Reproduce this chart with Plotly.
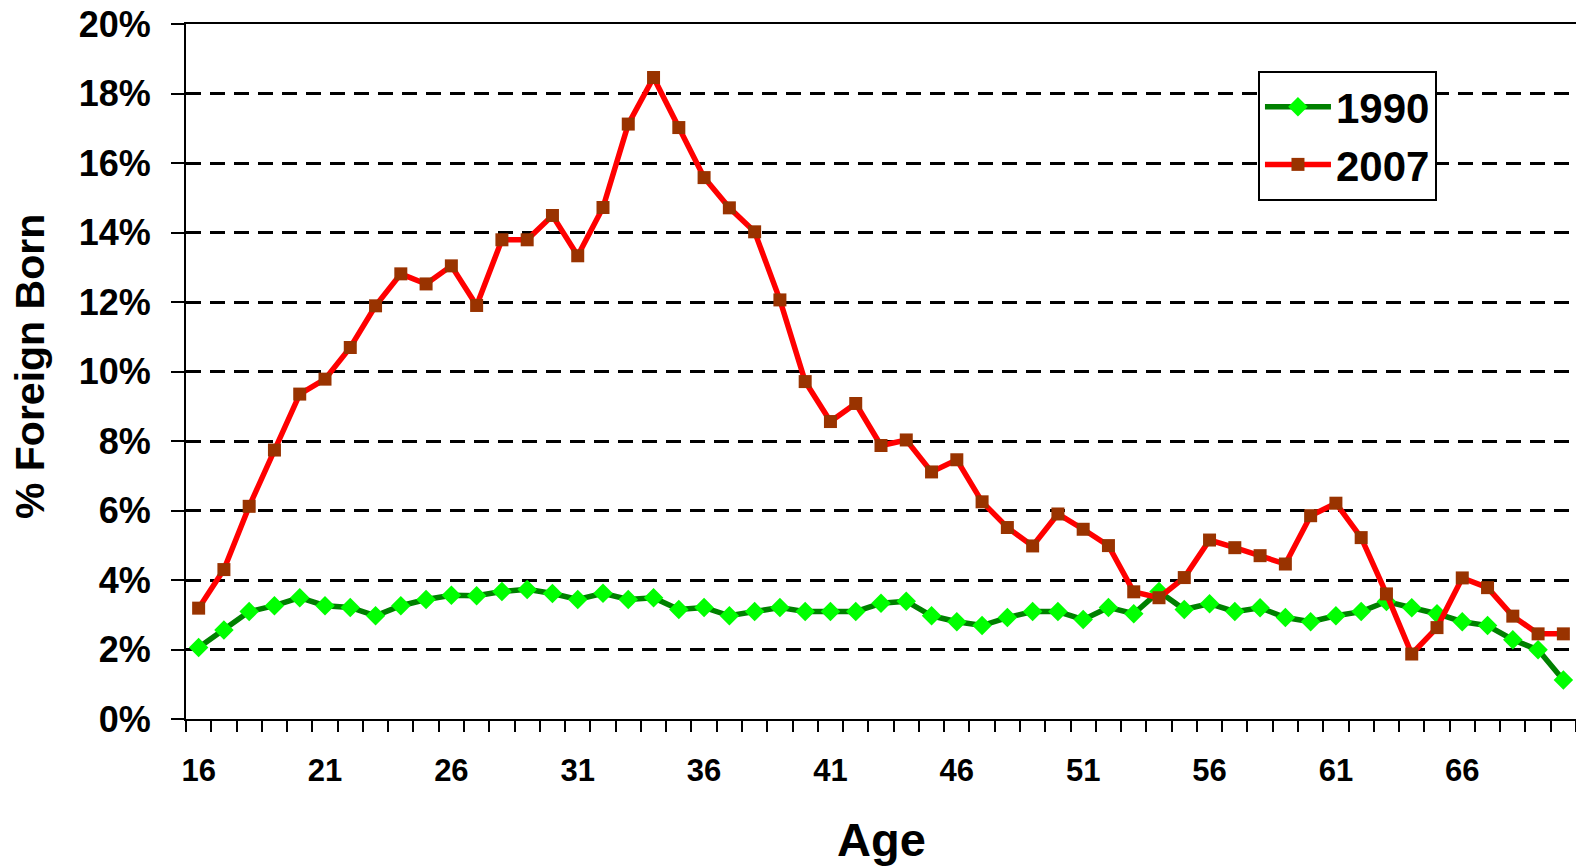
import plotly.graph_objects as go

# ages 16..70
ages = list(range(16, 71))

# percent foreign born
pct_1990 = [2.06, 2.56, 3.09, 3.26, 3.49, 3.26, 3.21, 2.97, 3.26, 3.44,
            3.56, 3.55, 3.67, 3.73, 3.61, 3.44, 3.62, 3.44, 3.49, 3.15,
            3.21, 2.97, 3.09, 3.21, 3.09, 3.09, 3.09, 3.33, 3.39, 2.97,
            2.80, 2.69, 2.92, 3.09, 3.09, 2.86, 3.21, 3.03, 3.67, 3.15,
            3.32, 3.09, 3.20, 2.92, 2.80, 2.97, 3.09, 3.38, 3.20, 3.03,
            2.80, 2.69, 2.28, 1.99, 1.12]
pct_2007 = [3.19, 4.30, 6.12, 7.74, 9.35, 9.78, 10.69, 11.89, 12.81, 12.52,
            13.04, 11.90, 13.79, 13.79, 14.49, 13.33, 14.72, 17.12, 18.46, 17.02,
            15.58, 14.71, 14.02, 12.06, 9.71, 8.56, 9.08, 7.87, 8.03, 7.11,
            7.46, 6.25, 5.51, 4.98, 5.90, 5.46, 4.99, 3.66, 3.49, 4.07,
            5.15, 4.93, 4.70, 4.46, 5.85, 6.21, 5.22, 3.60, 1.87, 2.63,
            4.06, 3.78, 2.96, 2.45, 2.45]

x_labels = [16, 21, 26, 31, 36, 41, 46, 51, 56, 61, 66]
y_ticks = list(range(0, 21, 2))
y_labels = [f"{v}%" for v in y_ticks]

font = "Liberation Sans, Arial, sans-serif"

fig = go.Figure()
fig.add_trace(go.Scatter(x=ages, y=pct_1990, name="1990", mode="lines+markers",
                         line=dict(color="#008000", width=5.5),
                         marker=dict(symbol="diamond", size=15, color="#00FF00")))
fig.add_trace(go.Scatter(x=ages, y=pct_2007, name="2007", mode="lines+markers",
                         line=dict(color="#FF0000", width=5.5),
                         marker=dict(symbol="square", size=13, color="#993300")))

fig.update_layout(
    width=1576, height=866,
    margin=dict(l=186, r=0, t=24, b=147),
    paper_bgcolor="white", plot_bgcolor="white",
    font=dict(family=font, color="black"),
    showlegend=True,
    legend=dict(x=0.7712, y=0.9324, xanchor="left", yanchor="top",
                bordercolor="black", borderwidth=2, bgcolor="white",
                font=dict(size=42, family=font, weight="bold"),
                itemwidth=66, tracegroupgap=0),
)

fig.update_xaxes(
    range=[15.5, 70.5], tickvals=x_labels,
    ticks="outside", ticklen=23, tickcolor="rgba(0,0,0,0)",
    tickfont=dict(size=31, family=font, weight="bold"),
    showgrid=False, zeroline=False,
    showline=True, linecolor="black", linewidth=2, mirror=True,
    minor=dict(tick0=15.5, dtick=1, ticks="outside", ticklen=11,
               tickcolor="black", tickwidth=2, showgrid=False),
)
fig.update_yaxes(
    range=[0, 20], tickvals=y_ticks, ticktext=y_labels,
    ticks="outside", ticklen=13, tickwidth=2, tickcolor="black",
    tickfont=dict(size=36, family=font, weight="bold"),
    ticklabelstandoff=13,
    showgrid=True, gridcolor="black", gridwidth=3, griddash="15px,9px",
    zeroline=False, showline=True, linecolor="black", linewidth=2,
)

fig.add_annotation(text="% Foreign Born", xref="paper", yref="paper",
                   x=-0.1122, y=0.5065, xanchor="center", yanchor="middle",
                   textangle=-90, showarrow=False,
                   font=dict(size=41, family=font, weight="bold"))
fig.add_annotation(text="Age", xref="paper", yref="paper",
                   x=0.5, y=-0.1727, xanchor="center", yanchor="middle",
                   showarrow=False,
                   font=dict(size=47, family=font, weight="bold"))

# drop the default 8px body margin so the figure sits at the window origin
fig.write_html("out.html", config={"displayModeBar": False},
               post_script="document.body.style.margin='0';")
